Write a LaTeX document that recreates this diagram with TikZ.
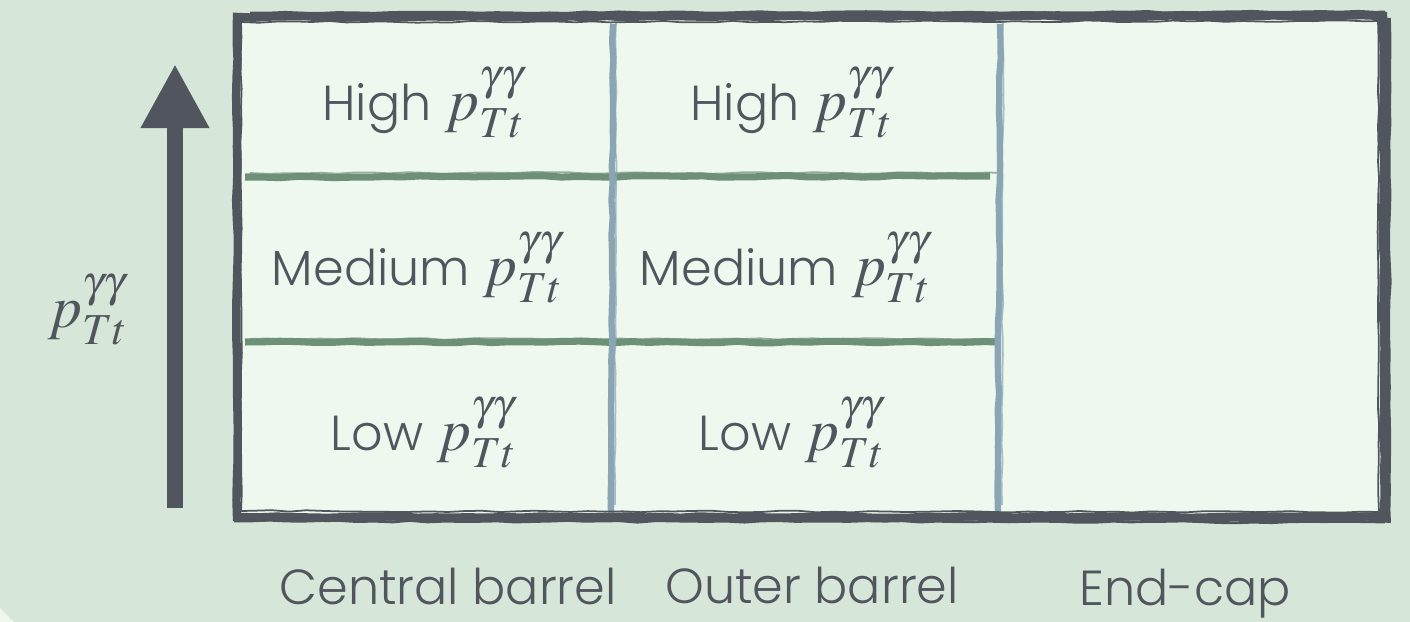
\documentclass[tikz,border=0pt]{standalone}
\usepackage{mathptmx}
\usepackage[no-math]{fontspec}
\setmainfont{Poppins}[UprightFont=* Light]
\usetikzlibrary{arrows.meta, decorations.pathmorphing}

\definecolor{bgpage}{HTML}{D6E6D8}
\definecolor{bgcell}{HTML}{EFF8EE}
\definecolor{framegray}{HTML}{51565E}
\definecolor{rowgreen}{HTML}{6E9078}
\definecolor{colblue}{HTML}{8AA6B4}

% transverse momentum symbol, set a bit larger than the words
\newcommand{\ptgg}{{\fontsize{17}{19}\selectfont$p_{Tt}^{\gamma\gamma}$}}

\begin{document}
\begin{tikzpicture}[x=0.01cm, y=-0.01cm,
                        every node/.style={text=framegray, font=\fontsize{14}{17}\selectfont},
                        rough/.style={decorate, decoration={random steps, segment length=5pt, amplitude=0.25pt}}
                    ]

    % Define custom styles for the sketchy strokes
    \tikzset{
        frame line/.style={rough, draw=framegray, line width=#1},
        row line/.style={rough, draw=rowgreen, line width=#1},
        col line/.style={rough, draw=colblue, line width=#1}
    }

    % Background and panel
    \fill[bgpage] (0,0) rectangle (1410,622);
    \fill[bgcell] (0,608) -- (14,622) -- (0,622) -- cycle;
    \useasboundingbox (0,0) rectangle (1410,622);
    \fill[bgcell] (238,18) rectangle (1386,517);

    % Row separators
    \draw[row line=2pt] (245,177) -- (990,176);
    \draw[row line=0.5pt, opacity=0.7] (250,173) -- (1000,173);
    \draw[row line=2pt] (245,342) -- (1000,342);
    \draw[row line=0.5pt, opacity=0.7] (250,339) -- (995,339);

    % Column separators
    \draw[col line=1.8pt] (613,24) -- (611,514);
    \draw[col line=0.5pt, opacity=0.7] (616,22) -- (615,505);
    \draw[col line=1.8pt] (1000,24) -- (998,514);
    \draw[col line=0.5pt, opacity=0.7] (1003,22) -- (1002,505);

    % Frame
    \draw[frame line=2.4pt] (237,17) -- (1383,16) -- (1384,517) -- (237,517) -- cycle;
    \draw[frame line=1.6pt] (1388,18) -- (1388,520) -- (1370,519);
    \draw[frame line=0.5pt] (241,22) -- (1378,21) -- (1379,512) -- (241,511) -- cycle;
    \draw[frame line=0.8pt] (250,13) -- (1385,12);
    \draw[frame line=0.8pt] (234,521) -- (1385,522);

    % Axis arrow
    \coordinate (arrowtail) at (175,508);
    \coordinate (arrowtip) at (175,64);
    \draw[framegray, line width=0.16cm,
          -{Triangle[length=0.64cm, width=0.64cm]}] (arrowtail) -- (arrowtip);
    \node (axislabel) at (88,310) {\ptgg};

    % Central barrel cells
    \node (C1) at (424,103) {High \ptgg};
    \node (C2) at (418,268) {Medium \ptgg};
    \node (C3) at (424,433) {Low \ptgg};

    % Outer barrel cells
    \node (O1) at (792,103) {High \ptgg};
    \node (O2) at (786,268) {Medium \ptgg};
    \node (O3) at (792,433) {Low \ptgg};

    % Column labels
    \node (central) at (448,586) {Central barrel};
    \node (outer) at (812,586) {Outer barrel};
    \node (endcap) at (1185,594) {End-cap};

\end{tikzpicture}
\end{document}
